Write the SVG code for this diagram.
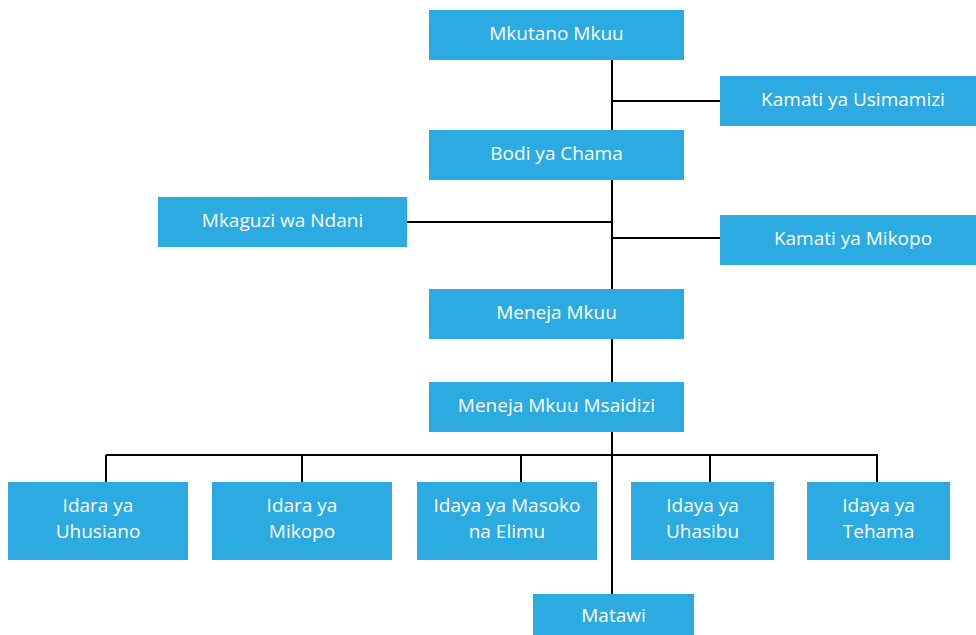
<svg xmlns="http://www.w3.org/2000/svg" width="976" height="635" viewBox="0 0 976 635">
<style>
.b{fill:#2BABE2}
.t{font-family:"Open Sans","Noto Sans",sans-serif;font-size:19px;fill:#fff;text-anchor:middle}
.c{stroke:#000;stroke-width:2;fill:none}
</style>
<rect width="976" height="635" fill="#fff"/>
<g id="connectors" class="c">
<path d="M612 60V594"/>
<path d="M612 101H720"/>
<path d="M407 222H612"/>
<path d="M612 238H720"/>
<path d="M106 455H878"/>
<path d="M106 455V482M302 455V482M521 455V482M710 455V482M877 455V482"/>
</g>
<g id="n1"><rect class="b" x="429" y="10" width="255" height="50"/><text class="t" x="556.5" y="39.5">Mkutano Mkuu</text></g>
<g id="n2"><rect class="b" x="720" y="76" width="256" height="50"/><text class="t" x="853" y="105.5">Kamati ya Usimamizi</text></g>
<g id="n3"><rect class="b" x="429" y="130" width="255" height="50"/><text class="t" x="556.5" y="159.5">Bodi ya Chama</text></g>
<g id="n4"><rect class="b" x="158" y="197" width="249" height="50"/><text class="t" x="282.5" y="226.5">Mkaguzi wa Ndani</text></g>
<g id="n5"><rect class="b" x="720" y="215" width="256" height="50"/><text class="t" x="853" y="244.5">Kamati ya Mikopo</text></g>
<g id="n6"><rect class="b" x="429" y="289" width="255" height="50"/><text class="t" x="556.5" y="318.5">Meneja Mkuu</text></g>
<g id="n7"><rect class="b" x="429" y="382" width="255" height="50"/><text class="t" x="556.5" y="411.5">Meneja Mkuu Msaidizi</text></g>
<g id="n8"><rect class="b" x="8" y="482" width="180" height="78"/><text class="t" x="98" y="512">Idara ya</text><text class="t" x="98" y="538">Uhusiano</text></g>
<g id="n9"><rect class="b" x="212" y="482" width="180" height="78"/><text class="t" x="302" y="512">Idara ya</text><text class="t" x="302" y="538">Mikopo</text></g>
<g id="n10"><rect class="b" x="417" y="482" width="180" height="78"/><text class="t" x="507" y="512">Idaya ya Masoko</text><text class="t" x="507" y="538">na Elimu</text></g>
<g id="n11"><rect class="b" x="631" y="482" width="143" height="78"/><text class="t" x="702.5" y="512">Idaya ya</text><text class="t" x="702.5" y="538">Uhasibu</text></g>
<g id="n12"><rect class="b" x="807" y="482" width="143" height="78"/><text class="t" x="878.5" y="512">Idaya ya</text><text class="t" x="878.5" y="538">Tehama</text></g>
<g id="n13"><rect class="b" x="533" y="594" width="161" height="41"/><text class="t" x="613.5" y="622">Matawi</text></g>
</svg>
